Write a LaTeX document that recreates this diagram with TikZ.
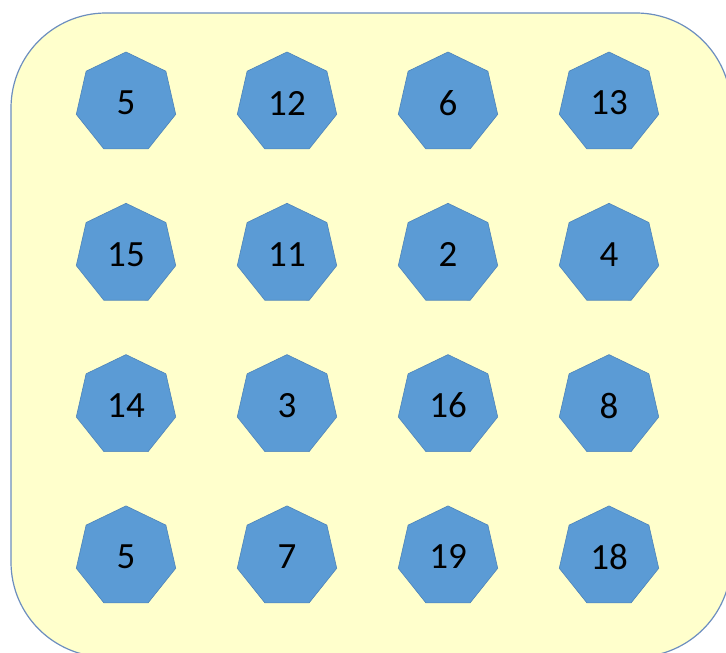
\documentclass[tikz,border=0pt]{standalone}
\usepackage{fontspec}
\setmainfont{Carlito}
\usetikzlibrary{shapes.geometric}
\definecolor{hepfill}{RGB}{91,155,213}
\definecolor{hepedge}{RGB}{78,132,185}
\definecolor{panelfill}{RGB}{255,255,204}
\definecolor{paneledge}{RGB}{108,142,191}
\tikzset{
  hep/.style={regular polygon, regular polygon sides=7, minimum size=102pt,
    inner sep=0pt, fill=hepfill, draw=hepedge, line width=0.6pt,
    font=\fontsize{37}{40}\selectfont, text=black},
  panel/.style={fill=panelfill, draw=paneledge, line width=1.2pt, rounded corners=95pt}
}
\begin{document}
\begin{tikzpicture}[x=1pt,y=-1pt]
\useasboundingbox (0,0) rectangle (726,653);
\clip (0,0) rectangle (726,653);
\path[panel] (11,13) rectangle (731,657);
\foreach \lab [count=\i from 0] in {5,12,6,13,15,11,2,4,14,3,16,8,5,7,19,18}{
  \pgfmathtruncatemacro{\col}{mod(\i,4)}
  \pgfmathtruncatemacro{\row}{div(\i,4)}
  \node[hep] (h\i) at (126+161*\col, 103+151.3*\row) {\lab};
}
\end{tikzpicture}
\end{document}
